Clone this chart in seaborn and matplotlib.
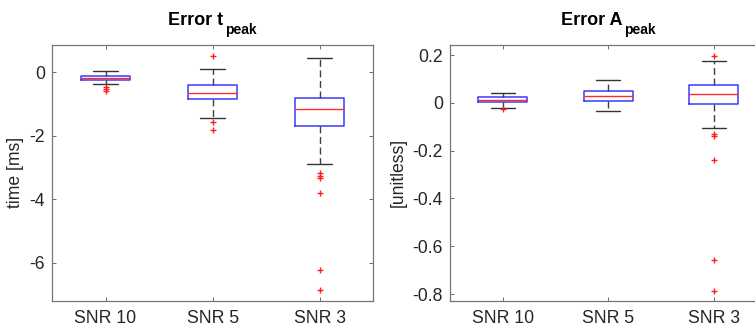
import matplotlib
matplotlib.use("Agg")
import matplotlib.pyplot as plt
import pandas as pd
import seaborn as sns

# summary stats (MATLAB style boxplot)
labels = ["SNR 10", "SNR 5", "SNR 3"]

t_q1 = [-0.24, -0.84, -1.68]
t_med = [-0.17, -0.65, -1.14]
t_q3 = [-0.11, -0.41, -0.80]
t_lo = [-0.37, -1.43, -2.88]
t_hi = [0.05, 0.10, 0.45]
t_out = [[-0.45, -0.52, -0.58], [0.52, -1.56, -1.83],
         [-3.16, -3.25, -3.34, -3.81, -6.22, -6.86]]

a_q1 = [0.002, 0.008, -0.003]
a_med = [0.011, 0.028, 0.039]
a_q3 = [0.023, 0.048, 0.074]
a_lo = [-0.022, -0.036, -0.106]
a_hi = [0.042, 0.097, 0.176]
a_out = [[-0.027], [], [0.197, -0.131, -0.137, -0.238, -0.656, -0.786]]

sns.set_theme(style="ticks")
plt.rcParams["font.family"] = ["Liberation Sans", "DejaVu Sans"]

W, H = 755, 327
fig = plt.figure(figsize=(W / 100, H / 100), dpi=100)
ax1 = fig.add_axes([52 / W, (H - 300.7) / H, 321.3 / W, 255.7 / H])
ax2 = fig.add_axes([450 / W, (H - 300.7) / H, 316.5 / W, 255.7 / H])


def draw_panel(ax, q1, med, q3, lo, hi, out, ylabel, ylim, yticks, yfmt):
    stats = []
    for i in range(len(labels)):
        stats.append({"q1": q1[i], "med": med[i], "q3": q3[i],
                      "whislo": lo[i], "whishi": hi[i], "fliers": []})
    ax.bxp(stats, positions=[1, 2, 3], widths=0.46, capwidths=0.23,
           showfliers=False, patch_artist=False,
           boxprops=dict(color="#3b3bff", lw=1.1),
           medianprops=dict(color="#ff2a2a", lw=1.0),
           whiskerprops=dict(color="#404040", lw=1.0, linestyle=(0, (5, 2.6))),
           capprops=dict(color="#333333", lw=1.0))

    fl = pd.DataFrame([(i + 1, v) for i, vals in enumerate(out) for v in vals],
                      columns=["pos", "val"])
    if len(fl):
        sns.scatterplot(data=fl, x="pos", y="val", marker="+", color="#ff1f1f",
                        s=24, linewidth=1.0, ax=ax, zorder=5)

    ax.set_xlim(0.5, 3.5)
    ax.set_ylim(*ylim)
    ax.set_xticks([1, 2, 3])
    ax.set_xticklabels(labels)
    ax.set_yticks(yticks)
    ax.set_yticklabels([yfmt(v) for v in yticks])
    ax.set_xlabel("")
    ax.set_ylabel(ylabel, fontsize=12.7, color="#262626", labelpad=4)
    ax.tick_params(direction="in", length=3, width=0.6, color="#555555",
                   labelsize=12.7, labelcolor="#262626",
                   top=True, right=True)
    ax.tick_params(axis="x", pad=7)
    ax.tick_params(axis="y", pad=5)
    for sp in ax.spines.values():
        sp.set_visible(True)
        sp.set_color("#777777")
        sp.set_linewidth(0.9)


def add_title(ax, main, sub):
    # MATLAB-like title: bold text with a large, well dropped subscript
    y = 1 + 20 / 255.7
    t1 = ax.text(0.5, y, main, transform=ax.transAxes, ha="left",
                 va="baseline", fontsize=13, fontweight="bold", color="black")
    t2 = ax.text(0.5, y - 9 / 255.7, sub, transform=ax.transAxes, ha="left",
                 va="baseline", fontsize=10, fontweight="bold", color="black")
    fig.canvas.draw()
    r = fig.canvas.get_renderer()
    w1 = t1.get_window_extent(r).width
    w2 = t2.get_window_extent(r).width
    gap = 2
    axw = ax.get_window_extent(r).width
    x0 = 0.5 - (w1 + gap + w2) / 2 / axw
    t1.set_x(x0)
    t2.set_x(x0 + (w1 + gap) / axw)


def fmt_t(v):
    return f"{v:g}"


def fmt_a(v):
    return "0" if abs(v) < 1e-9 else f"{v:.1f}"


draw_panel(ax1, t_q1, t_med, t_q3, t_lo, t_hi, t_out, "time [ms]",
           (-7.19, 0.86), [-6, -4, -2, 0], fmt_t)
draw_panel(ax2, a_q1, a_med, a_q3, a_lo, a_hi, a_out, "[unitless]",
           (-0.828, 0.242), [-0.8, -0.6, -0.4, -0.2, 0, 0.2], fmt_a)
add_title(ax1, "Error t", "peak")
add_title(ax2, "Error A", "peak")

fig.savefig("out.png", dpi=100)
